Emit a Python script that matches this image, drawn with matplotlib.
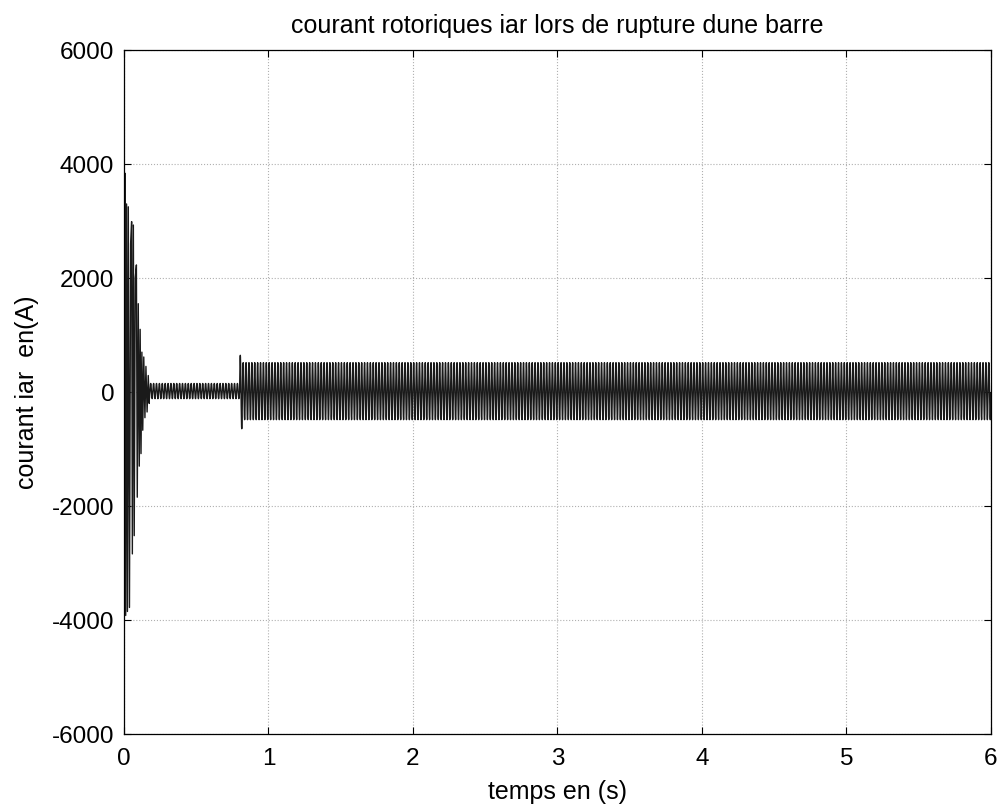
import numpy as np
import matplotlib.pyplot as plt

plt.rcParams['font.family'] = ['Liberation Sans', 'DejaVu Sans']
plt.rcParams['font.size'] = 17.5
plt.rcParams['axes.unicode_minus'] = False
plt.rcParams['xtick.direction'] = 'in'
plt.rcParams['ytick.direction'] = 'in'

# start-up transient: successive peaks of iar (s, A)
t_start = [0.0, 0.007, 0.012, 0.018, 0.024, 0.030, 0.038, 0.046, 0.053, 0.058,
           0.065, 0.071, 0.078, 0.086, 0.092, 0.099, 0.106, 0.112, 0.118, 0.124,
           0.130, 0.137, 0.145, 0.152, 0.160, 0.168, 0.175]
i_start = [0, 3840, -3920, 3300, -3850, 3250, -3780, 2600, 2990, -2840,
           2930, -2520, 2000, 2230, -1845, 1550, -1300, 1100, -1080, 700,
           -670, 615, -450, 450, -350, 290, -200]

# steady regimes: (t_from, t_to, offset, amplitude)
seg_t0 = [0.175, 0.800, 0.823]
seg_t1 = [0.800, 0.823, 6.000]
seg_off = [17, 0, 15]
seg_amp = [133, 645, 500]

f_sig = 50.0     # Hz
dt = 4e-4

t_parts = [np.array(t_start)]
i_parts = [np.array(i_start, dtype=float)]
for a, b, off, amp in zip(seg_t0, seg_t1, seg_off, seg_amp):
    tt = np.arange(a, b, dt)
    t_parts.append(tt)
    i_parts.append(off + amp * np.sin(2 * np.pi * f_sig * tt))
t = np.concatenate(t_parts)
iar = np.concatenate(i_parts)

fig = plt.figure(figsize=(10.03, 8.10), dpi=100)
ax = fig.add_axes([0.1236, 0.0938, 0.8644, 0.8444])
ax.plot(t, iar, color='#1a1a1a', lw=1.0)
ax.set_xlim(0, 6)
ax.set_ylim(-6000, 6000)
ax.set_xticks(np.arange(0, 7, 1))
ax.set_yticks(np.arange(-6000, 6001, 2000))
ax.grid(True, color='#b0b0b0', linestyle=':', linewidth=0.8)
ax.tick_params(top=True, right=True, length=5, width=0.8)
ax.tick_params(axis='x', pad=10)
ax.tick_params(axis='y', pad=7)
for s in ax.spines.values():
    s.set_linewidth(0.9)
ax.set_title('courant rotoriques iar lors de rupture dune barre', fontsize=18, pad=12)
ax.set_xlabel('temps en (s)', fontsize=18, labelpad=7)
ax.set_ylabel('courant iar  en(A)', fontsize=18, labelpad=9)
fig.savefig('out.png', dpi=100, facecolor='white')
